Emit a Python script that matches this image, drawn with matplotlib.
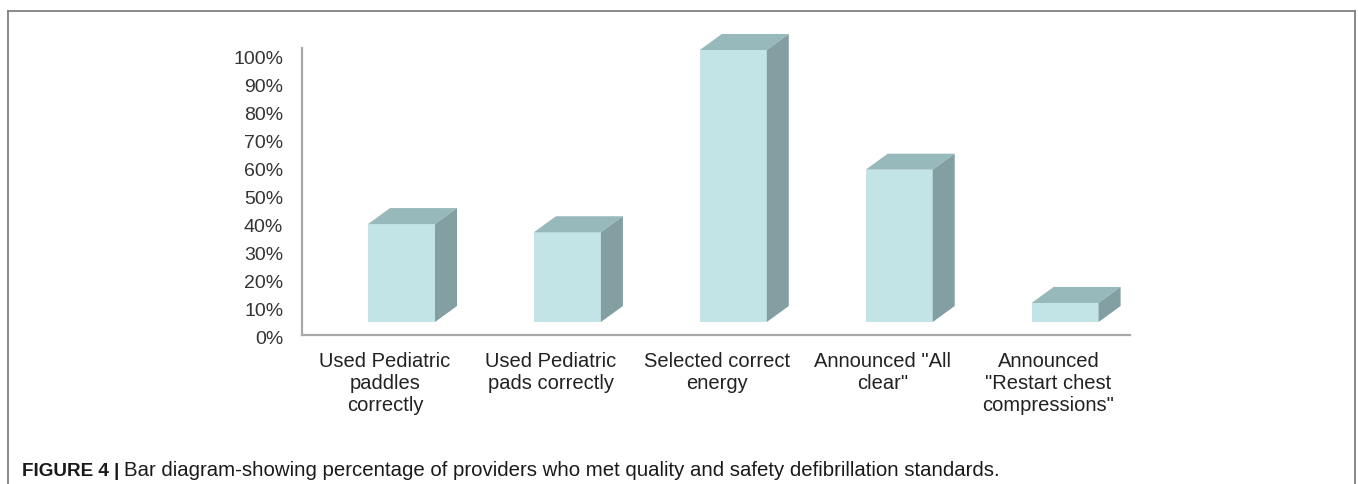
import matplotlib
matplotlib.use("Agg")
import matplotlib.pyplot as plt
import numpy as np
from matplotlib.lines import Line2D
from matplotlib.patches import Polygon
from matplotlib import font_manager

# ---- data -------------------------------------------------------------
categories = [
    "Used Pediatric\npaddles\ncorrectly",
    "Used Pediatric\npads correctly",
    "Selected correct\nenergy",
    "Announced \"All\nclear\"",
    "Announced\n\"Restart chest\ncompressions\"",
]
percent_met = [36, 33, 100, 56, 7]
tick_values = list(range(0, 101, 10))
tick_labels = [f"{v}%" for v in tick_values]
caption_head = "FIGURE 4 |"
caption_body = ("Bar diagram-showing percentage of providers who met quality "
                "and safety defibrillation standards.")

# ---- styling ----------------------------------------------------------
plt.rcParams["font.family"] = ["Liberation Sans", "DejaVu Sans"]
FRONT = "#c3e4e6"
TOP = "#98b9bb"
SIDE = "#849fa1"
AXIS = "#a8a8a8"
FRAME = "#808080"

installed = {f.name for f in font_manager.fontManager.ttflist}
if "Liberation Sans Narrow" in installed:
    head_family, head_size = ["Liberation Sans Narrow", "Liberation Sans"], 15.5
else:
    head_family, head_size = ["Liberation Sans", "DejaVu Sans"], 13.6

W, H = 1358, 484
fig = plt.figure(figsize=(W / 100, H / 100), dpi=100)

PX_PER_UNIT_X = 165.9          # spacing between neighbouring columns
X_LEFT = -0.5998
X_RIGHT = X_LEFT + 828 / PX_PER_UNIT_X
BAR_W = 67 / PX_PER_UNIT_X     # width of the front face
DEPTH_X = 22 / PX_PER_UNIT_X   # oblique depth of the columns
DEPTH_Y = 16 / 272 * 100       # same depth, in bar-axis units

# value axis with the percentage scale
ax = fig.add_axes([302 / W, (H - 338) / H, 828 / W, 290 / H])
px_per_pct = 2.81
y_top = 290 / px_per_pct
y_base = 3 / px_per_pct
ax.set_ylim(0, y_top)
ax.set_xlim(X_LEFT, X_RIGHT)
ax.patch.set_visible(False)
for side in ("top", "right"):
    ax.spines[side].set_visible(False)
for side in ("left", "bottom"):
    ax.spines[side].set_color(AXIS)
    ax.spines[side].set_linewidth(1.6)
ax.spines["left"].set_bounds(y_base, y_top)
ax.spines["bottom"].set_position(("data", y_base))
ax.set_yticks(tick_values)
ax.set_yticklabels(tick_labels, fontsize=14, color="#333333")
ax.tick_params(axis="y", length=0, pad=13.5)

x = np.arange(len(categories))
ax.set_xticks(x - 0.1)
ax.set_xticklabels(categories, fontsize=14.5, color="#222222",
                   linespacing=1.22)
ax.tick_params(axis="x", length=0, pad=12)

# column axes: front faces drawn as ordinary bars, depth faces as polygons
bax = fig.add_axes([302 / W, (H - 322) / H, 828 / W, 272 / H])
bax.set_xlim(X_LEFT, X_RIGHT)
bax.set_ylim(0, 100)
bax.axis("off")
bax.bar(x, percent_met, width=BAR_W, color=FRONT, linewidth=0, zorder=2)
for xi, v in zip(x, percent_met):
    x0, x1 = xi - BAR_W / 2, xi + BAR_W / 2
    top = Polygon([(x0, v), (x1, v), (x1 + DEPTH_X, v + DEPTH_Y),
                   (x0 + DEPTH_X, v + DEPTH_Y)],
                  closed=True, facecolor=TOP, edgecolor="none",
                  clip_on=False, zorder=2)
    side = Polygon([(x1, 0), (x1, v), (x1 + DEPTH_X, v + DEPTH_Y),
                    (x1 + DEPTH_X, DEPTH_Y)],
                   closed=True, facecolor=SIDE, edgecolor="none",
                   clip_on=False, zorder=2)
    bax.add_patch(top)
    bax.add_patch(side)

# surrounding frame, open at the bottom
fl, fr, ft = 7.5 / W, 1355 / W, (H - 11) / H
for xs, ys in (([fl, fl], [0, ft]), ([fl, fr], [ft, ft]), ([fr, fr], [ft, 0])):
    fig.add_artist(Line2D(xs, ys, transform=fig.transFigure,
                          color=FRAME, linewidth=1.3))

# caption: bold label followed by the description
cap_y = (H - 476) / H
head = fig.text(22 / W, cap_y, caption_head, fontsize=head_size,
                fontweight="bold", family=head_family,
                color="#1a1a1a", va="baseline", ha="left")
renderer = fig.canvas.get_renderer()
bb = head.get_window_extent(renderer=renderer)
fig.text((bb.x1 + 5) / W, cap_y, caption_body, fontsize=14.7,
         color="#1a1a1a", va="baseline", ha="left")

fig.savefig("out.png", dpi=100)
